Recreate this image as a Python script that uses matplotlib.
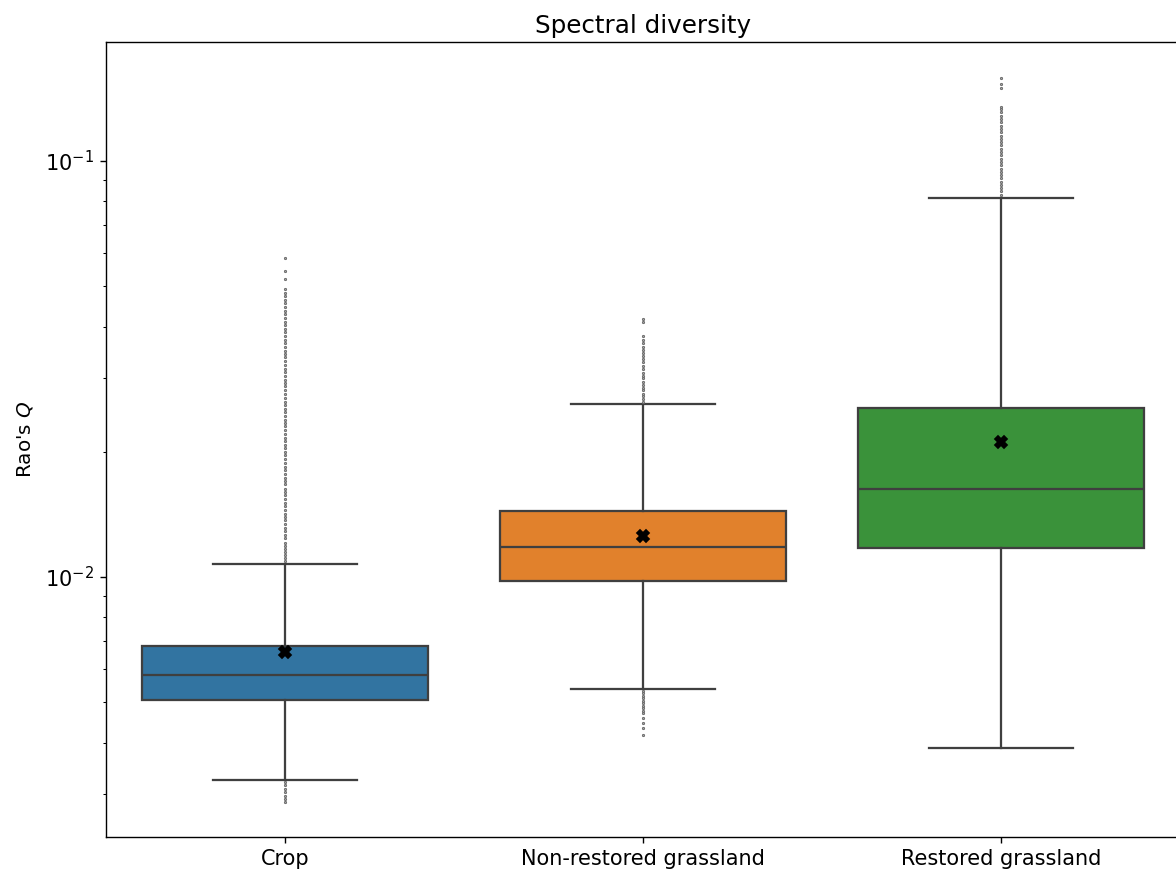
import matplotlib
matplotlib.use("Agg")
import matplotlib.pyplot as plt

categories = ["Crop", "Non-restored grassland", "Restored grassland"]
colors = ["#3274a1", "#e1812c", "#3a923a"]

# box stats (log axis)
whislo = [0.00325, 0.00538, 0.00388]
q1 = [0.00506, 0.00978, 0.01175]
med = [0.00581, 0.0118, 0.0163]
q3 = [0.00682, 0.01443, 0.02546]
whishi = [0.01073, 0.0261, 0.0815]
means = [0.00661, 0.01256, 0.0211]

fliers_crop = [
    0.00322, 0.00316, 0.00310, 0.00304, 0.00298, 0.00293, 0.00288,
    0.0109, 0.0111, 0.0113, 0.0115, 0.0117, 0.0119, 0.0121, 0.0124, 0.0126,
    0.0129, 0.0131, 0.0134, 0.0137, 0.0139, 0.0142, 0.0145, 0.0148, 0.0151,
    0.0154, 0.0157, 0.0160, 0.0163, 0.0167, 0.0170, 0.0173, 0.0177, 0.0181,
    0.0184, 0.0188, 0.0192, 0.0196, 0.0200, 0.0204, 0.0208, 0.0212, 0.0216,
    0.0221, 0.0225, 0.0230, 0.0234, 0.0239, 0.0244, 0.0249, 0.0254, 0.0259,
    0.0264, 0.0270, 0.0275, 0.0281, 0.0287, 0.0292, 0.0298, 0.0304, 0.0311,
    0.0317, 0.0323, 0.0330, 0.0337, 0.0343, 0.0350, 0.0357, 0.0365, 0.0372,
    0.0380, 0.0387, 0.0395, 0.0403, 0.0411, 0.0420, 0.0428, 0.0437, 0.0446,
    0.0455, 0.0464, 0.0473, 0.0482, 0.0492, 0.0520, 0.0545, 0.0585,
]
fliers_nonrest = [
    0.00532, 0.00525, 0.00518, 0.00511, 0.00504, 0.00497, 0.00490, 0.00484,
    0.00477, 0.00471, 0.00458, 0.00445, 0.00433, 0.00417,
    0.0264, 0.0268, 0.0272, 0.0276, 0.0281, 0.0285, 0.0290, 0.0295, 0.0300,
    0.0305, 0.0310, 0.0316, 0.0322, 0.0328, 0.0334, 0.0340, 0.0346, 0.0352,
    0.0358, 0.0365, 0.0372, 0.0379, 0.0410, 0.0418,
]
fliers_rest = [
    0.0830, 0.0845, 0.0860, 0.0876, 0.0892, 0.0908, 0.0925, 0.0942, 0.0959,
    0.0977, 0.0995, 0.1013, 0.1032, 0.1051, 0.1070, 0.1090, 0.1110, 0.1130,
    0.1151, 0.1172, 0.1194, 0.1216, 0.1238, 0.1261, 0.1284, 0.1308, 0.1332,
    0.1350, 0.1496, 0.1531, 0.1584,
]
fliers = [fliers_crop, fliers_nonrest, fliers_rest]

fig = plt.figure(figsize=(1176 / 125, 877 / 125), dpi=125)
ax = fig.add_axes([106 / 1176, 40 / 877, 1074 / 1176, 795 / 877])

stats = []
for i in range(len(categories)):
    stats.append(dict(med=med[i], q1=q1[i], q3=q3[i], whislo=whislo[i],
                      whishi=whishi[i], mean=means[i], fliers=fliers[i]))

line_c = "#3f3f3f"
bp = ax.bxp(stats, positions=range(len(categories)), widths=0.8,
            patch_artist=True, showmeans=True,
            boxprops=dict(edgecolor=line_c, linewidth=1.3),
            medianprops=dict(color=line_c, linewidth=1.3),
            whiskerprops=dict(color=line_c, linewidth=1.3),
            capprops=dict(color=line_c, linewidth=1.3),
            flierprops=dict(marker="o", markersize=1.3, markerfacecolor="0.65",
                            markeredgecolor="0.4", markeredgewidth=0.5),
            meanprops=dict(marker="X", markersize=7, markerfacecolor="black",
                           markeredgecolor="black"))
for patch, c in zip(bp["boxes"], colors):
    patch.set_facecolor(c)

ax.set_yscale("log")
ax.set_ylim(0.002371, 0.1932)
ax.set_xlim(-0.5, 2.5)
ax.set_xticks(range(len(categories)))
ax.set_xticklabels(categories, fontsize=12)
ax.tick_params(axis="y", labelsize=12)
ax.set_ylabel("Rao's $Q$", fontsize=11.5, labelpad=6)
ax.set_title("Spectral diversity", fontsize=14.2, pad=5)

fig.savefig("out.png", dpi=125)
